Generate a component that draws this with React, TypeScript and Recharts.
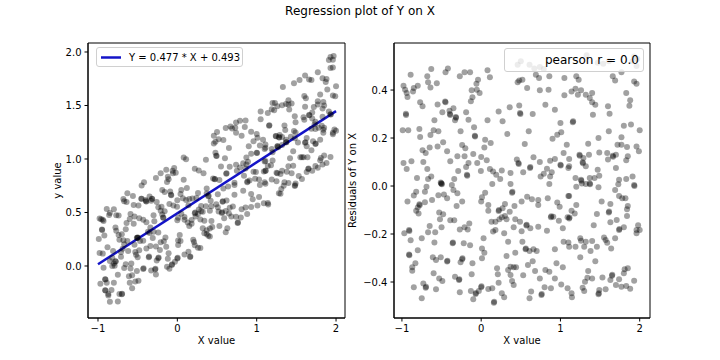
import { ComposedChart, Scatter, Line, XAxis, YAxis, Legend, Label, ReferenceArea } from "recharts";

// fit shown in the legend
const SLOPE = 0.477;
const INTERCEPT = 0.493;
const PEARSON_R = "0.0";

// [x, residual] pairs; the left panel is fit + residual
const RESIDUAL_POINTS: [number, number][] = [
  [-0.89, 0.464], [-0.63, 0.488], [-0.42, 0.49], [-0.45, 0.474], [-0.68, 0.457], [-0.21, 0.474],
  [-0.14, 0.474], [-0.27, 0.457], [-0.04, 0.443], [-0.98, 0.418], [-0.96, 0.401], [-0.94, 0.388],
  [-0.93, 0.371], [-0.8, 0.418], [-0.85, 0.408], [-0.86, 0.394], [-0.67, 0.432], [-0.64, 0.411],
  [-0.56, 0.428], [-0.06, 0.426], [-0.12, 0.399], [-0.055, 0.401], [-0.02, 0.388], [-0.11, 0.37],
  [-0.13, 0.353], [-0.45, 0.349], [-0.455, 0.352], [-0.77, 0.349], [-0.74, 0.332], [-0.55, 0.34],
  [-0.35, 0.324], [-0.4, 0.314], [-0.49, 0.307], [-0.95, 0.301], [-0.948, 0.296], [-0.39, 0.296],
  [-0.395, 0.3], [-0.32, 0.288], [-0.317, 0.284], [-0.33, 0.274], [-0.19, 0.307], [-0.16, 0.276],
  [-0.59, 0.274], [-0.09, 0.245], [-0.99, 0.232], [-0.92, 0.232], [-0.78, 0.238], [-0.6, 0.232],
  [-0.54, 0.228], [-0.64, 0.213], [-0.77, 0.204], [-0.26, 0.228], [-0.08, 0.21], [-0.077, 0.206],
  [-0.48, 0.182], [-0.55, 0.165], [-0.65, 0.161], [-0.74, 0.149], [-0.7, 0.138], [-0.43, 0.145],
  [-0.24, 0.171], [-0.2, 0.157], [-0.1, 0.133], [-0.3, 0.124], [-0.21, 0.124], [0.0, 0.121],
  [-0.88, 0.103], [-0.98, 0.096], [-0.73, 0.1], [-0.39, 0.103], [-0.16, 0.096], [-0.05, 0.096],
  [-0.19, 0.079], [-0.94, 0.071], [-0.68, 0.071], [-0.29, 0.063], [-0.004, 0.063], [-0.63, 0.04],
  [-0.67, 0.029], [-0.81, 0.033], [-0.34, 0.029], [-0.18, 0.047], [-0.176, 0.043], [-0.51, 0.015],
  [-0.506, 0.011],
  [0.46, 0.505], [0.5, 0.52], [0.61, 0.505], [0.67, 0.49], [0.74, 0.496], [0.79, 0.488],
  [0.08, 0.482], [0.11, 0.453], [0.48, 0.44], [0.52, 0.443], [0.46, 0.432], [0.69, 0.464],
  [0.73, 0.45], [0.86, 0.457], [1.05, 0.45], [0.58, 0.408], [0.74, 0.399], [0.85, 0.401],
  [1.05, 0.378], [0.81, 0.339], [0.36, 0.328], [0.48, 0.336], [0.22, 0.311], [0.49, 0.304],
  [0.495, 0.3], [0.65, 0.3], [0.93, 0.318], [0.08, 0.274], [0.27, 0.27], [1.0, 0.263],
  [0.6, 0.228], [0.33, 0.217], [1.01, 0.224], [0.96, 0.214], [0.9, 0.197], [0.05, 0.193],
  [0.12, 0.179], [0.04, 0.161], [0.55, 0.175], [1.08, 0.172], [1.04, 0.138], [0.07, 0.107],
  [0.66, 0.12], [0.45, 0.11], [0.47, 0.096], [0.474, 0.092], [0.74, 0.1], [0.87, 0.105],
  [0.93, 0.113], [1.0, 0.089], [1.004, 0.085], [0.62, 0.079], [0.616, 0.075], [0.83, 0.072],
  [0.53, 0.057], [0.11, 0.071], [0.15, 0.061], [0.26, 0.065], [0.37, 0.054], [0.19, 0.047],
  [0.24, 0.029], [0.79, 0.051], [0.75, 0.04], [0.87, 0.04], [0.89, 0.057], [1.1, 0.075],
  [1.2, 0.457], [1.23, 0.443], [1.66, 0.457], [1.69, 0.44], [1.93, 0.436], [1.96, 0.426],
  [1.19, 0.405], [1.26, 0.399], [1.14, 0.394], [1.22, 0.38], [1.32, 0.38], [1.4, 0.388],
  [1.37, 0.367], [1.4, 0.349], [1.44, 0.339], [1.83, 0.388], [1.88, 0.357], [1.87, 0.335],
  [1.6, 0.332], [1.41, 0.297], [1.62, 0.301], [1.16, 0.27], [1.156, 0.266], [1.8, 0.251],
  [1.89, 0.256], [2.0, 0.232], [1.61, 0.228], [1.48, 0.2], [1.77, 0.203], [1.35, 0.176],
  [1.72, 0.172], [1.77, 0.172], [1.84, 0.163], [1.96, 0.165], [1.99, 0.145], [1.24, 0.13],
  [1.244, 0.126], [1.36, 0.13], [1.29, 0.117], [1.49, 0.14], [1.59, 0.138], [1.66, 0.126],
  [1.664, 0.122], [1.7, 0.13], [1.6, 0.11], [1.85, 0.124], [1.83, 0.107], [1.11, 0.113],
  [1.28, 0.099], [1.284, 0.095], [1.11, 0.082], [1.32, 0.082], [1.47, 0.068], [1.7, 0.075],
  [1.19, 0.033], [1.26, 0.026], [1.264, 0.022], [1.37, 0.033], [1.43, 0.033], [1.49, 0.043],
  [1.74, 0.026], [1.83, 0.029], [1.91, 0.04],
  [1.93, 0.54], [1.97, 0.53], [1.91, 0.52], [1.96, 0.5], [1.33, 0.545], [1.47, 0.514],
  [1.54, 0.51], [1.61, 0.52], [1.77, 0.474],
  [-0.5, 0.011], [-0.496, 0.007], [-0.69, -0.003], [-0.37, 0.004], [-0.35, -0.017], [-0.3, -0.03],
  [-0.82, -0.024], [-0.71, -0.024], [-0.85, -0.04], [-0.93, -0.065], [-0.54, -0.038], [-0.47, -0.035],
  [-0.43, -0.051], [-0.62, -0.058], [-0.71, -0.068], [-0.78, -0.076], [-0.776, -0.08], [-0.8, -0.089],
  [-0.82, -0.103], [-0.79, -0.114], [-0.24, -0.065], [-0.31, -0.083], [0.0, -0.065], [-0.53, -0.11],
  [-0.48, -0.118], [-0.52, -0.139], [-0.39, -0.143], [-0.34, -0.143], [-0.65, -0.167], [-0.5, -0.172],
  [-0.27, -0.181], [-0.21, -0.172], [-0.17, -0.181], [-0.15, -0.156], [-0.97, -0.197], [-0.91, -0.183],
  [-0.906, -0.187], [-0.67, -0.193], [-0.58, -0.193], [-0.75, -0.218], [-0.89, -0.226], [-0.59, -0.235],
  [-0.36, -0.239], [-0.356, -0.235], [-0.22, -0.239], [-0.14, -0.247], [-0.8, -0.268], [-0.91, -0.285],
  [-0.906, -0.289], [-0.61, -0.297], [-0.57, -0.308], [-0.51, -0.297], [-0.43, -0.315], [-0.426, -0.311],
  [-0.24, -0.305], [-0.236, -0.301], [-0.26, -0.318], [-0.11, -0.322], [0.01, -0.301], [-0.83, -0.322],
  [-0.87, -0.339], [-0.87, -0.353], [-0.6, -0.364], [-0.12, -0.368], [-0.53, -0.385], [-0.49, -0.396],
  [-0.33, -0.378], [-0.28, -0.392], [-0.276, -0.388], [-0.73, -0.406], [-0.7, -0.424], [-0.696, -0.42],
  [-0.85, -0.422], [-0.57, -0.43], [-0.27, -0.443], [-0.13, -0.438], [0.0, -0.422], [0.004, -0.418],
  [-0.03, -0.438], [-0.07, -0.45], [-0.066, -0.446], [-0.1, -0.472], [-0.75, -0.468],
  [0.14, 0.008], [0.37, 0.008], [0.86, 0.008], [0.39, -0.028], [0.394, -0.024], [0.05, -0.028],
  [0.01, -0.047], [0.58, -0.045], [0.64, -0.055], [0.72, -0.058], [0.72, -0.079], [0.51, -0.065],
  [0.84, -0.051], [0.96, -0.069], [0.99, -0.086], [1.1, -0.042], [0.09, -0.079], [0.09, -0.103],
  [0.3, -0.075], [0.27, -0.093], [0.42, -0.083], [0.22, -0.104], [0.224, -0.1], [0.36, -0.107],
  [0.26, -0.13], [0.3, -0.125], [0.32, -0.139], [0.23, -0.139], [0.13, -0.149], [0.18, -0.149],
  [0.43, -0.139], [0.49, -0.149], [0.57, -0.165], [0.574, -0.161], [0.62, -0.176], [0.41, -0.172],
  [0.51, -0.188], [0.72, -0.17], [0.88, -0.13], [0.884, -0.126], [0.91, -0.128], [0.98, -0.145],
  [1.03, -0.176], [1.09, -0.13], [0.83, -0.186], [0.18, -0.183], [0.15, -0.19], [0.29, -0.197],
  [0.03, -0.218], [0.52, -0.232], [0.34, -0.232], [1.04, -0.232], [1.1, -0.235], [0.01, -0.26],
  [0.04, -0.278], [0.93, -0.264], [0.56, -0.264], [0.564, -0.26], [0.61, -0.271], [0.66, -0.264],
  [0.7, -0.271], [0.43, -0.278], [0.32, -0.292], [0.65, -0.313], [0.95, -0.322], [0.37, -0.336],
  [0.41, -0.339], [0.44, -0.339], [0.2, -0.343], [0.34, -0.35], [0.59, -0.329], [1.03, -0.339],
  [0.68, -0.354], [0.81, -0.35], [0.86, -0.357], [0.21, -0.368], [0.37, -0.371], [0.53, -0.372],
  [0.74, -0.385], [0.93, -0.385], [0.39, -0.396], [0.22, -0.403], [0.41, -0.413], [1.01, -0.41],
  [0.8, -0.422], [0.88, -0.426], [1.09, -0.426], [0.09, -0.429], [0.14, -0.426], [0.26, -0.447],
  [0.29, -0.464], [0.63, -0.44], [0.76, -0.454], [0.764, -0.45], [0.61, -0.468], [0.16, -0.486],
  [0.164, -0.482],
  [1.2, -0.003], [1.27, 0.011], [1.32, 0.008], [1.37, 0.011], [1.374, 0.007], [1.48, -0.005],
  [1.73, 0.007], [1.69, -0.017], [1.93, 0.004], [1.934, 0.0], [1.11, -0.042], [1.74, -0.042],
  [1.78, -0.051], [1.82, -0.051], [1.52, -0.065], [1.63, -0.075], [1.85, -0.083], [1.84, -0.097],
  [1.2, -0.079], [1.14, -0.103], [1.18, -0.114], [1.11, -0.135], [1.114, -0.131], [1.61, -0.11],
  [1.614, -0.106], [1.46, -0.117], [1.84, -0.125], [1.71, -0.142], [1.63, -0.151], [1.42, -0.163],
  [1.8, -0.172], [1.74, -0.183], [1.744, -0.179], [1.98, -0.163], [1.96, -0.183], [2.0, -0.183],
  [1.96, -0.197], [1.25, -0.218], [1.26, -0.228], [1.32, -0.232], [1.4, -0.229], [1.55, -0.215],
  [1.57, -0.225], [1.59, -0.236], [1.69, -0.218], [1.64, -0.26], [1.11, -0.253], [1.19, -0.253],
  [1.3, -0.253], [1.38, -0.271], [1.46, -0.253], [1.25, -0.297], [1.44, -0.313], [1.35, -0.354],
  [1.85, -0.343], [1.81, -0.347], [1.8, -0.364], [1.34, -0.382], [1.4, -0.385], [1.31, -0.399],
  [1.53, -0.381], [1.65, -0.374], [1.654, -0.37], [1.63, -0.392], [1.74, -0.389], [1.93, -0.395],
  [1.7, -0.413], [1.77, -0.42], [1.83, -0.417], [1.88, -0.428], [1.28, -0.424], [1.3, -0.438],
  [1.57, -0.43], [1.49, -0.433], [1.14, -0.447], [1.145, -0.464], [1.48, -0.451], [1.484, -0.447],
];

const FIT_X = [-1, 2];
const X_TICKS = [-1, 0, 1, 2];
const Y_TICKS = [0, 0.5, 1, 1.5, 2];
const RES_TICKS = [-0.4, -0.2, 0, 0.2, 0.4];

const LEFT_X_DOMAIN: [number, number] = [-1.126, 2.113];
const LEFT_Y_DOMAIN: [number, number] = [-0.486, 2.084];
const RIGHT_X_DOMAIN: [number, number] = [-1.1, 2.13];
const RIGHT_Y_DOMAIN: [number, number] = [-0.55, 0.596];

const residualData = RESIDUAL_POINTS.map(([x, r]) => ({ x, y: r }));
const scatterData = RESIDUAL_POINTS.map(([x, r]) => ({ x, y: SLOPE * x + INTERCEPT + r }));
const fitData = FIT_X.map((x) => ({ x, y: SLOPE * x + INTERCEPT }));

const FONT = "DejaVu Sans, sans-serif";
const LINE_BLUE = "#1414c8";

const minus = (s: string) => s.replace("-", "\u2212");
const fmtInt = (v: number) => minus(String(v));
const fmt1 = (v: number) => minus(v.toFixed(1));

const dot = (p: any) => <circle cx={p.cx} cy={p.cy} r={3} fill="#000" fillOpacity={0.37} />;

const axisCommon = {
  type: "number" as const,
  stroke: "#000",
  tickSize: 3.5,
  tickMargin: 3,
  interval: 0 as const,
  allowDataOverflow: true,
  tick: { fill: "#000", fontSize: 10, fontFamily: FONT },
};

function FitLegend() {
  return (
    <div style={{ display: "flex", alignItems: "center", width: 145, height: 18, border: "1px solid #d0d0d0", borderRadius: 3, background: "rgba(255,255,255,0.8)", fontFamily: FONT, fontSize: 10, color: "#000" }}>
      <svg width={32} height={18} style={{ display: "block" }}>
        <line x1={4} x2={24} y1={9.5} y2={9.5} stroke={LINE_BLUE} strokeWidth={2.5} />
      </svg>
      <span style={{ whiteSpace: "nowrap" }}>Y = {SLOPE} * X + {INTERCEPT}</span>
    </div>
  );
}

function PearsonLegend() {
  return (
    <div style={{ boxSizing: "border-box", width: 140, height: 24, border: "1px solid #d0d0d0", borderRadius: 3, background: "rgba(255,255,255,0.8)", fontFamily: FONT, fontSize: 12, color: "#000", textAlign: "right", paddingRight: 4, lineHeight: "22px", whiteSpace: "nowrap" }}>
      pearson r = {PEARSON_R}
    </div>
  );
}

export default function App() {
  return (
    <div style={{ position: "absolute", left: 0, top: 0, width: 720, height: 360, background: "#fff", fontFamily: FONT }}>
      <div style={{ position: "absolute", left: 0, top: 3, width: 720, textAlign: "center", fontSize: 12, lineHeight: "16px", color: "#000" }}>
        Regression plot of Y on X
      </div>

      <div style={{ position: "absolute", left: 0, top: 0 }}>
        <ComposedChart width={360} height={360} margin={{ top: 43, right: 15, bottom: 12, left: 26 }}>
          <XAxis {...axisCommon} dataKey="x" domain={LEFT_X_DOMAIN} ticks={X_TICKS} tickFormatter={fmtInt} height={30}>
            <Label value="X value" position="insideBottom" offset={4} fill="#000" fontSize={10} fontFamily={FONT} />
          </XAxis>
          <YAxis {...axisCommon} dataKey="y" domain={LEFT_Y_DOMAIN} ticks={Y_TICKS} tickFormatter={fmt1} width={62}>
            <Label value="y value" position="center" angle={-90} fill="#000" fontSize={10} fontFamily={FONT} />
          </YAxis>
          <Scatter data={scatterData} shape={dot} isAnimationActive={false} />
          <Line data={fitData} dataKey="y" stroke={LINE_BLUE} strokeWidth={2.5} dot={false} isAnimationActive={false} />
          {/* axes frame */}
          <ReferenceArea x1={LEFT_X_DOMAIN[0]} x2={LEFT_X_DOMAIN[1]} y1={LEFT_Y_DOMAIN[0]} y2={LEFT_Y_DOMAIN[1]} fill="none" fillOpacity={0} stroke="#000" strokeWidth={1} ifOverflow="visible" />
          <Legend layout="horizontal" verticalAlign="middle" align="center" wrapperStyle={{ left: 96, top: 47, width: "auto", height: "auto" }} content={() => <FitLegend />} />
        </ComposedChart>
      </div>

      <div style={{ position: "absolute", left: 300, top: 0 }}>
        <ComposedChart width={420} height={360} margin={{ top: 43, right: 70, bottom: 12, left: 10 }}>
          <XAxis {...axisCommon} dataKey="x" domain={RIGHT_X_DOMAIN} ticks={X_TICKS} tickFormatter={fmtInt} height={30}>
            <Label value="X value" position="insideBottom" offset={4} fill="#000" fontSize={10} fontFamily={FONT} />
          </XAxis>
          <YAxis {...axisCommon} dataKey="y" domain={RIGHT_Y_DOMAIN} ticks={RES_TICKS} tickFormatter={fmt1} width={84}>
            <Label value="Residuals of Y on X" position="center" angle={-90} fill="#000" fontSize={10} fontFamily={FONT} />
          </YAxis>
          <Scatter data={residualData} shape={dot} isAnimationActive={false} />
          <ReferenceArea x1={RIGHT_X_DOMAIN[0]} x2={RIGHT_X_DOMAIN[1]} y1={RIGHT_Y_DOMAIN[0]} y2={RIGHT_Y_DOMAIN[1]} fill="none" fillOpacity={0} stroke="#000" strokeWidth={1} ifOverflow="visible" />
          <Legend layout="horizontal" verticalAlign="middle" align="center" wrapperStyle={{ left: 204, top: 48, width: "auto", height: "auto" }} content={() => <PearsonLegend />} />
        </ComposedChart>
      </div>
    </div>
  );
}
